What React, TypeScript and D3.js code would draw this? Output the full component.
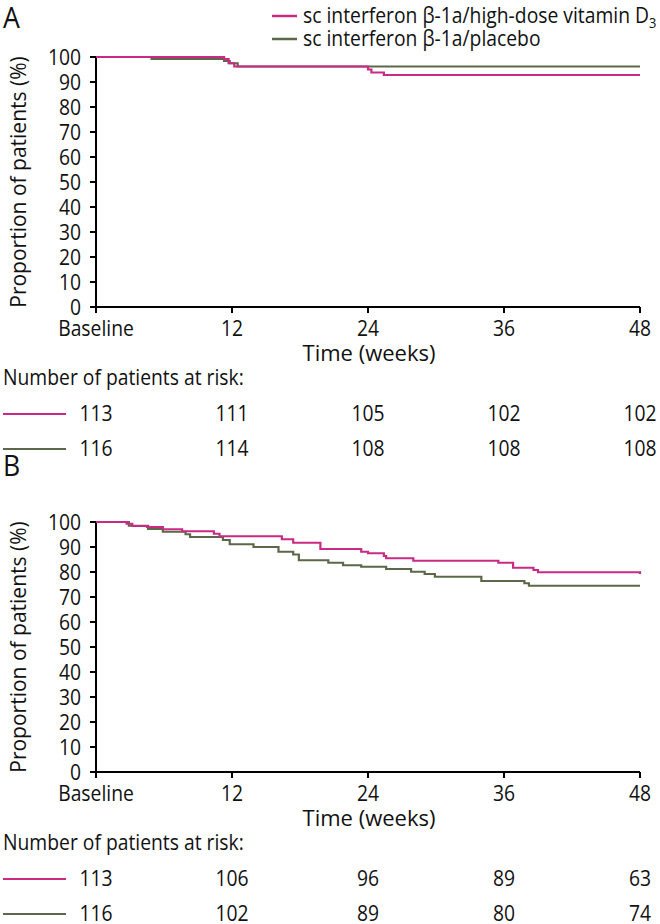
import React from 'react';
import * as d3 from 'd3';

// x axis: weeks, shown as Baseline/12/24/36/48
const weekTicks = [0, 12, 24, 36, 48];
const weekLabels = ['Baseline', '12', '24', '36', '48'];
const pctTicks = [0, 10, 20, 30, 40, 50, 60, 70, 80, 90, 100];

const seriesNames = ['sc interferon β-1a/high-dose vitamin D', 'sc interferon β-1a/placebo'];

// step curves: [week, % free of event] – value holds from this week onward
const vitDA: [number, number][] = [
  [0, 100], [11.3, 99.2], [11.7, 97.5], [12.2, 96.2], [24.0, 95.0], [24.3, 93.8], [25.4, 92.8], [48, 92.8],
];
const placeboA: [number, number][] = [
  [0, 100], [4.9, 99.2], [11.3, 98.4], [11.8, 97.5], [12.5, 96.2], [48, 96.2],
];
const vitDB: [number, number][] = [
  [0, 100], [2.7, 99.3], [3.2, 98.4], [4.5, 98.0], [5.9, 97.1], [7.6, 96.3], [10.4, 95.3], [10.9, 94.3],
  [16.4, 93.1], [17.4, 91.7], [19.8, 89.2], [23.4, 88.1], [24.0, 87.5], [25.4, 86.4], [25.6, 85.5],
  [28.0, 84.5], [35.5, 83.7], [36.8, 81.7], [38.6, 80.8], [39.0, 79.9], [47.9, 79.9], [48, 79.2],
];
const placeboB: [number, number][] = [
  [0, 100], [2.9, 98.5], [4.6, 97.2], [5.9, 96.1], [7.9, 95.1], [8.3, 94.0], [11.2, 92.8], [11.8, 91.1],
  [13.9, 90.0], [16.1, 88.1], [17.4, 87.0], [17.9, 84.7], [20.5, 83.7], [21.8, 82.7], [23.4, 82.1],
  [25.6, 81.2], [27.8, 80.1], [29.0, 79.2], [29.9, 78.1], [34.0, 76.4], [37.8, 75.5], [38.2, 74.5], [48, 74.5],
];

// patients at risk under each week tick
const riskVitDA = [113, 111, 105, 102, 102];
const riskPlaceboA = [116, 114, 108, 108, 108];
const riskVitDB = [113, 106, 96, 89, 63];
const riskPlaceboB = [116, 102, 89, 80, 74];

const PINK = '#c92a85';
const OLIVE = '#5b6849';
const FONT = "'Open Sans', 'Noto Sans', sans-serif";
const SQUEEZE = 0.92; // source figure is a little narrow

const x = d3.scaleLinear().domain([0, 48]).range([96, 640]);

// horizontally squeezed text
const T = ({ x: tx, y: ty, anchor = 'start', size = 21, dy, children }: any) => (
  <text transform={`translate(${tx},${ty}) scale(${SQUEEZE},1)`} textAnchor={anchor}
    fontSize={size} dy={dy} fill="#111">{children}</text>
);

type PanelProps = {
  letter: string;
  letterY: number;
  top: number;
  vitD: [number, number][];
  placebo: [number, number][];
  riskVitD: number[];
  riskPlacebo: number[];
  legend?: boolean;
};

const Panel = ({ letter, letterY, top, vitD, placebo, riskVitD, riskPlacebo, legend }: PanelProps) => {
  const y = d3.scaleLinear().domain([0, 100]).range([top + 250, top]);
  const line = d3.line<[number, number]>()
    .x(d => x(d[0]))
    .y(d => y(d[1]))
    .curve(d3.curveStepAfter);
  const y0 = y(0);

  return (
    <g>
      <T x={3} y={letterY} size={29}>{letter}</T>

      {legend && seriesNames.map((name, i) => (
        <g key={name}>
          <line x1={272} x2={297} y1={16 + i * 23} y2={16 + i * 23}
            stroke={i === 0 ? PINK : OLIVE} strokeWidth={2.5} />
          <T x={303} y={23 + i * 23}>
            {name}
            {i === 0 && <tspan fontSize={14} dy={5}>3</tspan>}
          </T>
        </g>
      ))}

      {/* y axis */}
      <line x1={96} x2={96} y1={y(100)} y2={y0} stroke="#000" strokeWidth={2} />
      {pctTicks.map(t => (
        <g key={t}>
          <line x1={90} x2={96} y1={y(t)} y2={y(t)} stroke="#000" strokeWidth={2} />
          <T x={81} y={y(t)} dy="0.36em" anchor="end">{t}</T>
        </g>
      ))}
      <text transform={`translate(26,${(y(100) + y0) / 2}) rotate(-90)`} textAnchor="middle"
        fontSize={21} fill="#111">Proportion of patients (%)</text>

      {/* x axis */}
      <line x1={96} x2={640} y1={y0} y2={y0} stroke="#000" strokeWidth={2} />
      {weekTicks.map((t, i) => (
        <g key={t}>
          <line x1={x(t)} x2={x(t)} y1={y0} y2={y0 + 6} stroke="#000" strokeWidth={2} />
          <T x={x(t)} y={y0 + 29} anchor="middle">{weekLabels[i]}</T>
        </g>
      ))}
      <text x={369} y={y0 + 54} textAnchor="middle" fontSize={22} fill="#111">Time (weeks)</text>

      {/* KM curves */}
      <path d={line(placebo) ?? ''} fill="none" stroke={OLIVE} strokeWidth={2.2} />
      <path d={line(vitD) ?? ''} fill="none" stroke={PINK} strokeWidth={2.2} />

      {/* risk table */}
      <T x={3} y={y0 + 78}>Number of patients at risk:</T>
      {[riskVitD, riskPlacebo].map((row, r) => (
        <g key={r}>
          <line x1={3} x2={66} y1={y0 + 107 + r * 35} y2={y0 + 107 + r * 35}
            stroke={r === 0 ? PINK : OLIVE} strokeWidth={2} />
          {row.map((n, i) => (
            <T key={i} x={x(weekTicks[i])} y={y0 + 114 + r * 35} anchor="middle">{n}</T>
          ))}
        </g>
      ))}
    </g>
  );
};

export default function App() {
  return (
    <svg width={660} height={924} style={{ position: 'absolute', left: 0, top: 0, background: '#fff' }}
      fontFamily={FONT}>
      <Panel letter="A" letterY={28} top={57} vitD={vitDA} placebo={placeboA}
        riskVitD={riskVitDA} riskPlacebo={riskPlaceboA} legend />
      <Panel letter="B" letterY={476} top={522} vitD={vitDB} placebo={placeboB}
        riskVitD={riskVitDB} riskPlacebo={riskPlaceboB} />
    </svg>
  );
}
